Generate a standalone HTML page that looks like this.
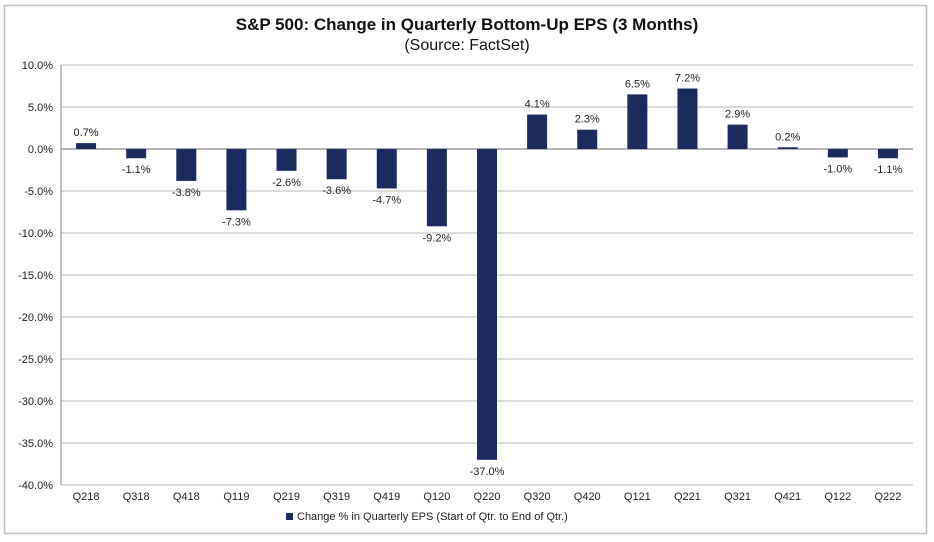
<!DOCTYPE html>
<html><head><meta charset="utf-8"><style>
html,body{margin:0;padding:0;background:#fff;}
svg{display:block;font-family:"Liberation Sans",Arial,sans-serif;}
</style></head><body>
<svg id="chart" width="934" height="542">
<rect x="4.5" y="5.5" width="922" height="528" fill="#fff" stroke="#bdbdbd" stroke-width="1.5"/>
<text x="467" y="30" text-anchor="middle" font-size="17" font-weight="bold" fill="#111">S&amp;P 500: Change in Quarterly Bottom-Up EPS (3 Months)</text>
<text x="467" y="50" text-anchor="middle" font-size="16" fill="#111">(Source: FactSet)</text>
<g id="grid"></g><g id="bars"></g><g id="labels"></g>
<rect x="286" y="513" width="7" height="7" fill="#1c2a5e"/>
<text x="297" y="520" font-size="11" fill="#222">Change % in Quarterly EPS (Start of Qtr. to End of Qtr.)</text>
</svg>
<script>
const categories=["Q218","Q318","Q418","Q119","Q219","Q319","Q419","Q120","Q220","Q320","Q420","Q121","Q221","Q321","Q421","Q122","Q222"];
const values=[0.7,-1.1,-3.8,-7.3,-2.6,-3.6,-4.7,-9.2,-37.0,4.1,2.3,6.5,7.2,2.9,0.2,-1.0,-1.1];
const ticks=[10,5,0,-5,-10,-15,-20,-25,-30,-35,-40];
const NS="http://www.w3.org/2000/svg";
const L=61,R=913,T=65,B=485,ymax=10,ymin=-40;
const y=v=>T+(ymax-v)/(ymax-ymin)*(B-T);
const step=(R-L)/categories.length;
const x=i=>L+step*(i+0.5);
function mk(tag,attrs,parent,txt){const e=document.createElementNS(NS,tag);for(const k in attrs)e.setAttribute(k,attrs[k]);if(txt!==undefined)e.textContent=txt;document.getElementById(parent).appendChild(e);return e;}
ticks.forEach(t=>{
  const g=mk('line',{x1:L,x2:R,y1:y(t),y2:y(t),stroke:t===0?'#888':'#c8c8c8','stroke-width':1.2},'grid');
  
  
  const lb=mk('text',{x:L-8,y:y(t)+4,'text-anchor':'end','font-size':11,fill:'#222'},'grid',t.toFixed(1)+'%');
  
  
});
const ax=mk('line',{x1:L,x2:L,y1:T,y2:B,stroke:'#999','stroke-width':1.2},'grid');


categories.forEach((c,i)=>{
  const v=values[i],bw=20;
  const top=Math.min(y(v),y(0)),h=Math.abs(y(v)-y(0));
  const b=mk('rect',{x:x(i)-bw/2,y:top,width:bw,height:Math.max(h,1.5),fill:'#1c2a5e'},'bars');
  
  
  const ly=v>=0?y(v)-7:y(v)+15;
  const vl=mk('text',{x:x(i),y:ly,'text-anchor':'middle','font-size':11,fill:'#222'},'labels',v.toFixed(1)+'%');
  
  
  const xl=mk('text',{x:x(i),y:B+15,'text-anchor':'middle','font-size':11,fill:'#222'},'labels',c);
  
  
});
</script>
</body></html>
